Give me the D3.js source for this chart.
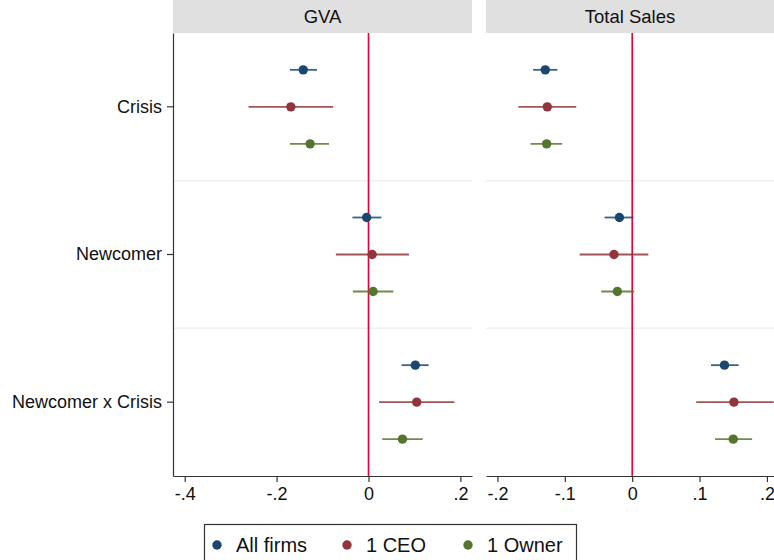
<!DOCTYPE html>
<html>
<head>
<meta charset="utf-8">
<script src="https://cdn.jsdelivr.net/npm/d3@7"></script>
<style>
  html, body { margin: 0; padding: 0; background: #fff; }
  svg { display: block; font-family: "Liberation Sans", Arial, sans-serif; }
</style>
</head>
<body>
<svg id="chart" width="774" height="560"></svg>
<script>
// Coefficient estimates with 95% confidence intervals
const terms = ["Crisis", "Newcomer", "Newcomer x Crisis"];
const samples = ["All firms", "1 CEO", "1 Owner"];
const sampleColors = ["#1a476f", "#90353b", "#55752f"];
const panels = ["GVA", "Total Sales"];

// GVA: [estimate, lower, upper] per term, per sample
const gvaAll   = [[-0.142, -0.171, -0.112], [-0.004, -0.035, 0.028], [0.102, 0.072, 0.131]];
const gvaCeo   = [[-0.169, -0.261, -0.077], [0.008, -0.071, 0.088], [0.105, 0.023, 0.187]];
const gvaOwner = [[-0.127, -0.171, -0.086], [0.010, -0.034, 0.054], [0.074, 0.030, 0.118]];

// Total Sales
const salesAll   = [[-0.129, -0.147, -0.111], [-0.019, -0.041, 0.002], [0.137, 0.117, 0.158]];
const salesCeo   = [[-0.126, -0.169, -0.083], [-0.027, -0.078, 0.024], [0.151, 0.095, 0.210]];
const salesOwner = [[-0.127, -0.151, -0.104], [-0.022, -0.046, 0.003], [0.150, 0.123, 0.178]];

const gvaTicks = [-0.4, -0.2, 0, 0.2];
const salesTicks = [-0.2, -0.1, 0, 0.1, 0.2];

const panelData = [
  { title: panels[0], series: [gvaAll, gvaCeo, gvaOwner], domain: [-0.4255, 0.2253], ticks: gvaTicks, x0: 173, x1: 472 },
  { title: panels[1], series: [salesAll, salesCeo, salesOwner], domain: [-0.217, 0.2105], ticks: salesTicks, x0: 486, x1: 774 }
];

const svg = d3.select("#chart");
const plotTop = 33, plotBottom = 476, headerTop = 0;

const yBand = d3.scaleBand().domain(terms).range([plotTop, plotBottom]).paddingInner(0).paddingOuter(0);
const yOffset = d3.scalePoint().domain(samples).range([-37, 37]);

// Stata-style tick labels: "-.2", "0", ".1"
const fmt = v => {
  if (v === 0) return "0";
  const s = Math.abs(v).toFixed(1).replace(/^0/, "");
  return (v < 0 ? "-" : "") + s;
};

panelData.forEach((p, pi) => {
  const x = d3.scaleLinear().domain(p.domain).range([p.x0, p.x1]);
  const g = svg.append("g");

  // strip header
  g.append("rect").attr("x", p.x0).attr("y", headerTop).attr("width", p.x1 - p.x0).attr("height", plotTop - headerTop)
    .attr("fill", "#e0e0e0");
  g.append("text").attr("x", (p.x0 + p.x1) / 2).attr("y", 17).attr("dy", "0.35em")
    .attr("text-anchor", "middle").attr("font-size", 18.5).attr("fill", "#111").text(p.title);

  // band separators
  terms.slice(1).forEach(t => {
    g.append("line").attr("x1", p.x0).attr("x2", p.x1)
      .attr("y1", yBand(t)).attr("y2", yBand(t))
      .attr("stroke", "#eaf2f3").attr("stroke-width", 1.5);
  });

  // zero reference
  g.append("line").attr("x1", x(0)).attr("x2", x(0)).attr("y1", plotTop).attr("y2", plotBottom)
    .attr("stroke", "#e4003a").attr("stroke-width", 1.6);

  // bottom axis
  const ax = g.append("g").attr("transform", `translate(0,${plotBottom})`)
    .call(d3.axisBottom(x).tickValues(p.ticks).tickFormat(fmt).tickSize(6).tickSizeOuter(0));
  ax.select(".domain").attr("stroke", "#333").attr("stroke-width", 1.2);
  ax.selectAll(".tick line").attr("stroke", "#333").attr("stroke-width", 1.2);
  ax.selectAll(".tick text").attr("font-size", 18).attr("fill", "#111").attr("dy", "0.85em")
    .attr("font-family", "Liberation Sans, Arial, sans-serif");

  // left axis on the first panel only
  if (pi === 0) {
    const ay = g.append("g").attr("transform", `translate(${p.x0},0)`)
      .call(d3.axisLeft(yBand).tickSize(6).tickSizeOuter(0).tickPadding(5));
    ay.select(".domain").attr("stroke", "#333").attr("stroke-width", 1.2);
    ay.selectAll(".tick line").attr("stroke", "#333").attr("stroke-width", 1.2);
    ay.selectAll(".tick text").attr("font-size", 18).attr("fill", "#111")
      .attr("font-family", "Liberation Sans, Arial, sans-serif");
  }

  // confidence intervals and point estimates
  p.series.forEach((ser, si) => {
    const col = sampleColors[si];
    ser.forEach((d, ti) => {
      const cy = yBand(terms[ti]) + yBand.bandwidth() / 2 + yOffset(samples[si]);
      g.append("line").attr("x1", x(d[1])).attr("x2", x(d[2])).attr("y1", cy).attr("y2", cy)
        .attr("stroke", col).attr("stroke-width", 1.8).attr("stroke-opacity", 0.85);
      g.append("circle").attr("cx", x(d[0])).attr("cy", cy).attr("r", 4.7).attr("fill", col);
    });
  });
});

// legend
const legend = svg.append("g");
legend.append("rect").attr("x", 204.5).attr("y", 524.5).attr("width", 372).attr("height", 50)
  .attr("fill", "#fff").attr("stroke", "#333").attr("stroke-width", 1.2);
const legendX = [217, 347, 468];
samples.forEach((s, i) => {
  legend.append("circle").attr("cx", legendX[i]).attr("cy", 545).attr("r", 4.7).attr("fill", sampleColors[i]);
  legend.append("text").attr("x", legendX[i] + 19).attr("y", 545).attr("dy", "0.35em")
    .attr("font-size", 20).attr("fill", "#111").text(s);
});
</script>
</body>
</html>
